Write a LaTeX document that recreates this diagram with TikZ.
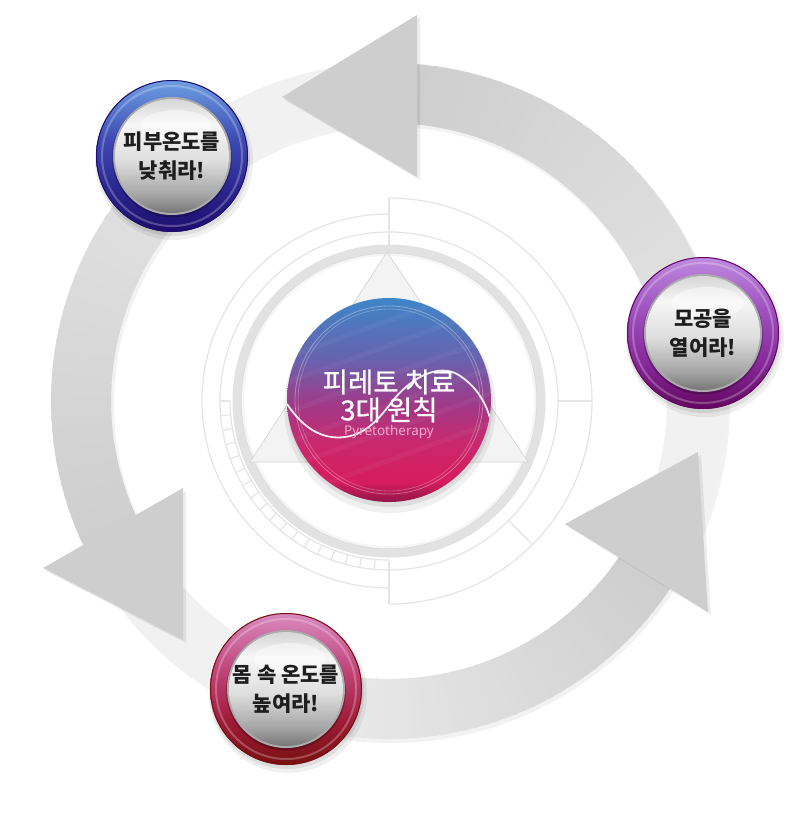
\documentclass[tikz,border=0pt]{standalone}
\usepackage{fontspec}
\newfontfamily\kr{Noto Sans CJK KR}
\newfontfamily\krmed{Noto Sans CJK KR}[FakeBold=0.9]
\newfontfamily\lat{Noto Sans}
\usetikzlibrary{calc}
\definecolor{bandc}{RGB}{241,241,241}
\definecolor{arrd}{RGB}{206,206,206}
\definecolor{arrt}{RGB}{230,230,230}
\definecolor{arrt2}{RGB}{238,238,238}
\definecolor{thinc}{RGB}{229,229,229}
\definecolor{ringc}{RGB}{226,226,226}
\definecolor{trif}{RGB}{243,243,243}
\definecolor{tris}{RGB}{214,214,214}
\definecolor{txtc}{RGB}{30,30,30}
\definecolor{pyc}{RGB}{246,170,205}
% centre disc
\definecolor{cc1}{RGB}{62,134,200}
\definecolor{cc2}{RGB}{104,98,174}
\definecolor{cc3}{RGB}{160,58,136}
\definecolor{cc4}{RGB}{202,40,108}
\definecolor{cc5}{RGB}{214,28,94}
\definecolor{cc6}{RGB}{146,22,72}
\pgfdeclareverticalshading{centreshade}{100bp}{color(0bp)=(cc6); color(25bp)=(cc6); color(30bp)=(cc5); color(39bp)=(cc4); color(49bp)=(cc3); color(60bp)=(cc2); color(75bp)=(cc1); color(100bp)=(cc1)}
% silver
\definecolor{sv1}{RGB}{118,118,118}
\definecolor{sv2}{RGB}{165,165,165}
\definecolor{sv3}{RGB}{222,222,222}
\definecolor{sv4}{RGB}{246,246,246}
\definecolor{sv5}{RGB}{214,214,214}
\pgfdeclareverticalshading{silvershade}{100bp}{color(0bp)=(sv1); color(25bp)=(sv1); color(33bp)=(sv2); color(48bp)=(sv3); color(64bp)=(sv4); color(75bp)=(sv5); color(100bp)=(sv5)}
% blue ring
\definecolor{bl1}{RGB}{30,12,108}
\definecolor{bl2}{RGB}{44,40,146}
\definecolor{bl3}{RGB}{62,76,180}
\definecolor{bl4}{RGB}{110,160,226}
\pgfdeclareverticalshading{blueshade}{100bp}{color(0bp)=(bl1); color(25bp)=(bl1); color(40bp)=(bl2); color(56bp)=(bl3); color(75bp)=(bl4); color(100bp)=(bl4)}
% purple ring
\definecolor{pu1}{RGB}{98,8,94}
\definecolor{pu2}{RGB}{134,40,154}
\definecolor{pu3}{RGB}{156,76,188}
\definecolor{pu4}{RGB}{190,138,222}
\pgfdeclareverticalshading{purpleshade}{100bp}{color(0bp)=(pu1); color(25bp)=(pu1); color(40bp)=(pu2); color(56bp)=(pu3); color(75bp)=(pu4); color(100bp)=(pu4)}
% crimson ring
\definecolor{cr1}{RGB}{120,16,16}
\definecolor{cr2}{RGB}{160,28,58}
\definecolor{cr3}{RGB}{192,68,120}
\definecolor{cr4}{RGB}{216,138,192}
\pgfdeclareverticalshading{crimsonshade}{100bp}{color(0bp)=(cr1); color(25bp)=(cr1); color(40bp)=(cr2); color(56bp)=(cr3); color(75bp)=(cr4); color(100bp)=(cr4)}

\tikzset{
  thinline/.style={draw=thinc, line width=1.2pt},
  headshape/.style={fill=arrd},
  headshadow/.style={fill=black, opacity=0.07},
  badgetext/.style={font=\kr\bfseries\fontsize{21}{29}\selectfont, text=txtc, align=center},
  centretext/.style={font=\krmed\fontsize{27.5}{28}\selectfont, text=white, align=center},
}

\newcommand\arrowbody[4]{%
  \foreach \i in {0,...,44}{%
    \pgfmathsetmacro\aa{#1+(#2-#1)*\i/45}%
    \pgfmathsetmacro\ab{#1+(#2-#1)*(\i+1.4)/45}%
    \pgfmathsetmacro\pc{100*\i/44}%
    \fill[#4!\pc!#3] (\aa:278) -- (\aa:338) -- (\ab:338) -- (\ab:278) -- cycle;
  }}

\newcommand\badge[5]{% name, centre, ring shading, ring edge colour, text
  \fill[black,opacity=.06] ($#2+(2,5)$) circle[radius=79];
  \fill[black,opacity=.08] ($#2+(1,3)$) circle[radius=77];
  \shade[shading=#3] #2 circle[radius=76];
  \draw[#4, line width=1pt] #2 circle[radius=75.5];
  \draw[white, opacity=.25, line width=2pt] #2 circle[radius=70];
  \fill[black, opacity=.25] ($#2+(0,1.5)$) circle[radius=60];
  \fill[gray!65] #2 circle[radius=59];
  \shade[shading=silvershade] #2 circle[radius=57];
  \fill[white, opacity=.45] ($#2+(4,-30)$) ellipse[x radius=36, y radius=16];
  \node[badgetext] (#1) at #2 {#5};
}

\begin{document}
\begin{tikzpicture}[x=1pt,y=-1pt]
\fill[white] (0,0) rectangle (788,819);
\useasboundingbox (0,0) rectangle (788,819);

% ---------- inner decoration ----------
\begin{scope}[shift={(389,401)}]
  \draw[thinline] (0,0) circle[radius=169];
  \draw[thinline] plot[domain=90:270, samples=90] (\x:187);
  \draw[thinline] plot[domain=-90:90, samples=90] (\x:203);
  \draw[thinline] (-90:156) -- (-90:203);
  \draw[thinline] (90:160) -- (90:203);
  \draw[thinline] (0:169) -- (0:203);
  \draw[thinline] (45:169) -- (45:203);
  \draw[thinline] plot[domain=90:180, samples=50] (\x:159);
  \foreach \a in {95,100,...,180} \draw[thinline] (\a:159) -- (\a:169);
  \draw[ringc, line width=9pt] (0,0) circle[radius=152];
  \draw[black, opacity=.04, line width=3pt] (0,0) circle[radius=146.5];
\end{scope}
\filldraw[fill=trif, draw=tris, line width=0.7pt] (387,252) -- (528,462) -- (250,462) -- cycle;

% ---------- band ----------
\fill[black, opacity=.05, even odd rule] (391,404) circle[radius=339] (391,404) circle[radius=277];
\fill[bandc, even odd rule] (389,401) circle[radius=338] (389,401) circle[radius=278];

% ---------- arrow bodies ----------
\begin{scope}[shift={(389,401)}]
  \arrowbody{0}{-85.5}{arrt}{arrd}
  \arrowbody{240}{154.5}{arrt}{arrd}
  \arrowbody{112}{33.5}{arrt2}{arrd}
\end{scope}

% ---------- arrow heads ----------
\fill[headshadow] (420,17) -- (420,180) -- (285,100) -- cycle;
\fill[headshadow] (46,571) -- (186,491) -- (186,643) -- cycle;
\fill[headshadow] (568,527) -- (701,455) -- (711,615) -- cycle;
\coordinate (h1a) at (417,15); \coordinate (h1b) at (417,177); \coordinate (h1t) at (282,97);
\coordinate (h2a) at (43,568); \coordinate (h2b) at (183,488); \coordinate (h2t) at (183,640);
\coordinate (h3a) at (565,524); \coordinate (h3b) at (708,612); \coordinate (h3t) at (698,452);
\fill[headshape] (h1a) -- (h1b) -- (h1t) -- cycle;
\fill[headshape] (h2a) -- (h2b) -- (h2t) -- cycle;
\fill[headshape] (h3a) -- (h3b) -- (h3t) -- cycle;

% ---------- centre disc ----------
\fill[black, opacity=.06] (390,407) circle[radius=106];
\fill[black, opacity=.08] (390,404) circle[radius=103];
\shade[shading=centreshade] (389,400) circle[radius=102];
\begin{scope}
  \clip (389,400) circle[radius=102];
  \foreach \k in {-60,-35,-5,25,50,80}
    \draw[white, opacity=.04, line width=5pt] (280,{420+\k}) -- (500,{340+\k});
  \draw[white, opacity=.35, line width=0.8pt] (389,400) circle[radius=94];
  \draw[white, opacity=.25, line width=0.8pt] (389,400) circle[radius=91];
  \draw[white, opacity=.9, line width=1.8pt]
    (287,404) .. controls (303,428) and (322,440) .. (345,437)
              .. controls (368,434) and (381,416) .. (395,398)
              .. controls (413,377) and (438,364) .. (457,374)
              .. controls (474,384) and (485,400) .. (490,418);
\end{scope}
\node[centretext] (ctitle) at (389,396) {피레토 치료\\3대 원칙};
\node[font=\lat\fontsize{13.5}{16}\selectfont, text=pyc] (csub) at (389,432) {Pyretotherapy};

% ---------- badges ----------
\badge{n1}{(172,156)}{blueshade}{bl1}{피부온도를\\낮춰라!}
\badge{n2}{(703,333)}{purpleshade}{pu1}{모공을\\열어라!}
\badge{n3}{(286,689)}{crimsonshade}{cr1}{몸 속 온도를\\높여라!}
\end{tikzpicture}
\end{document}
